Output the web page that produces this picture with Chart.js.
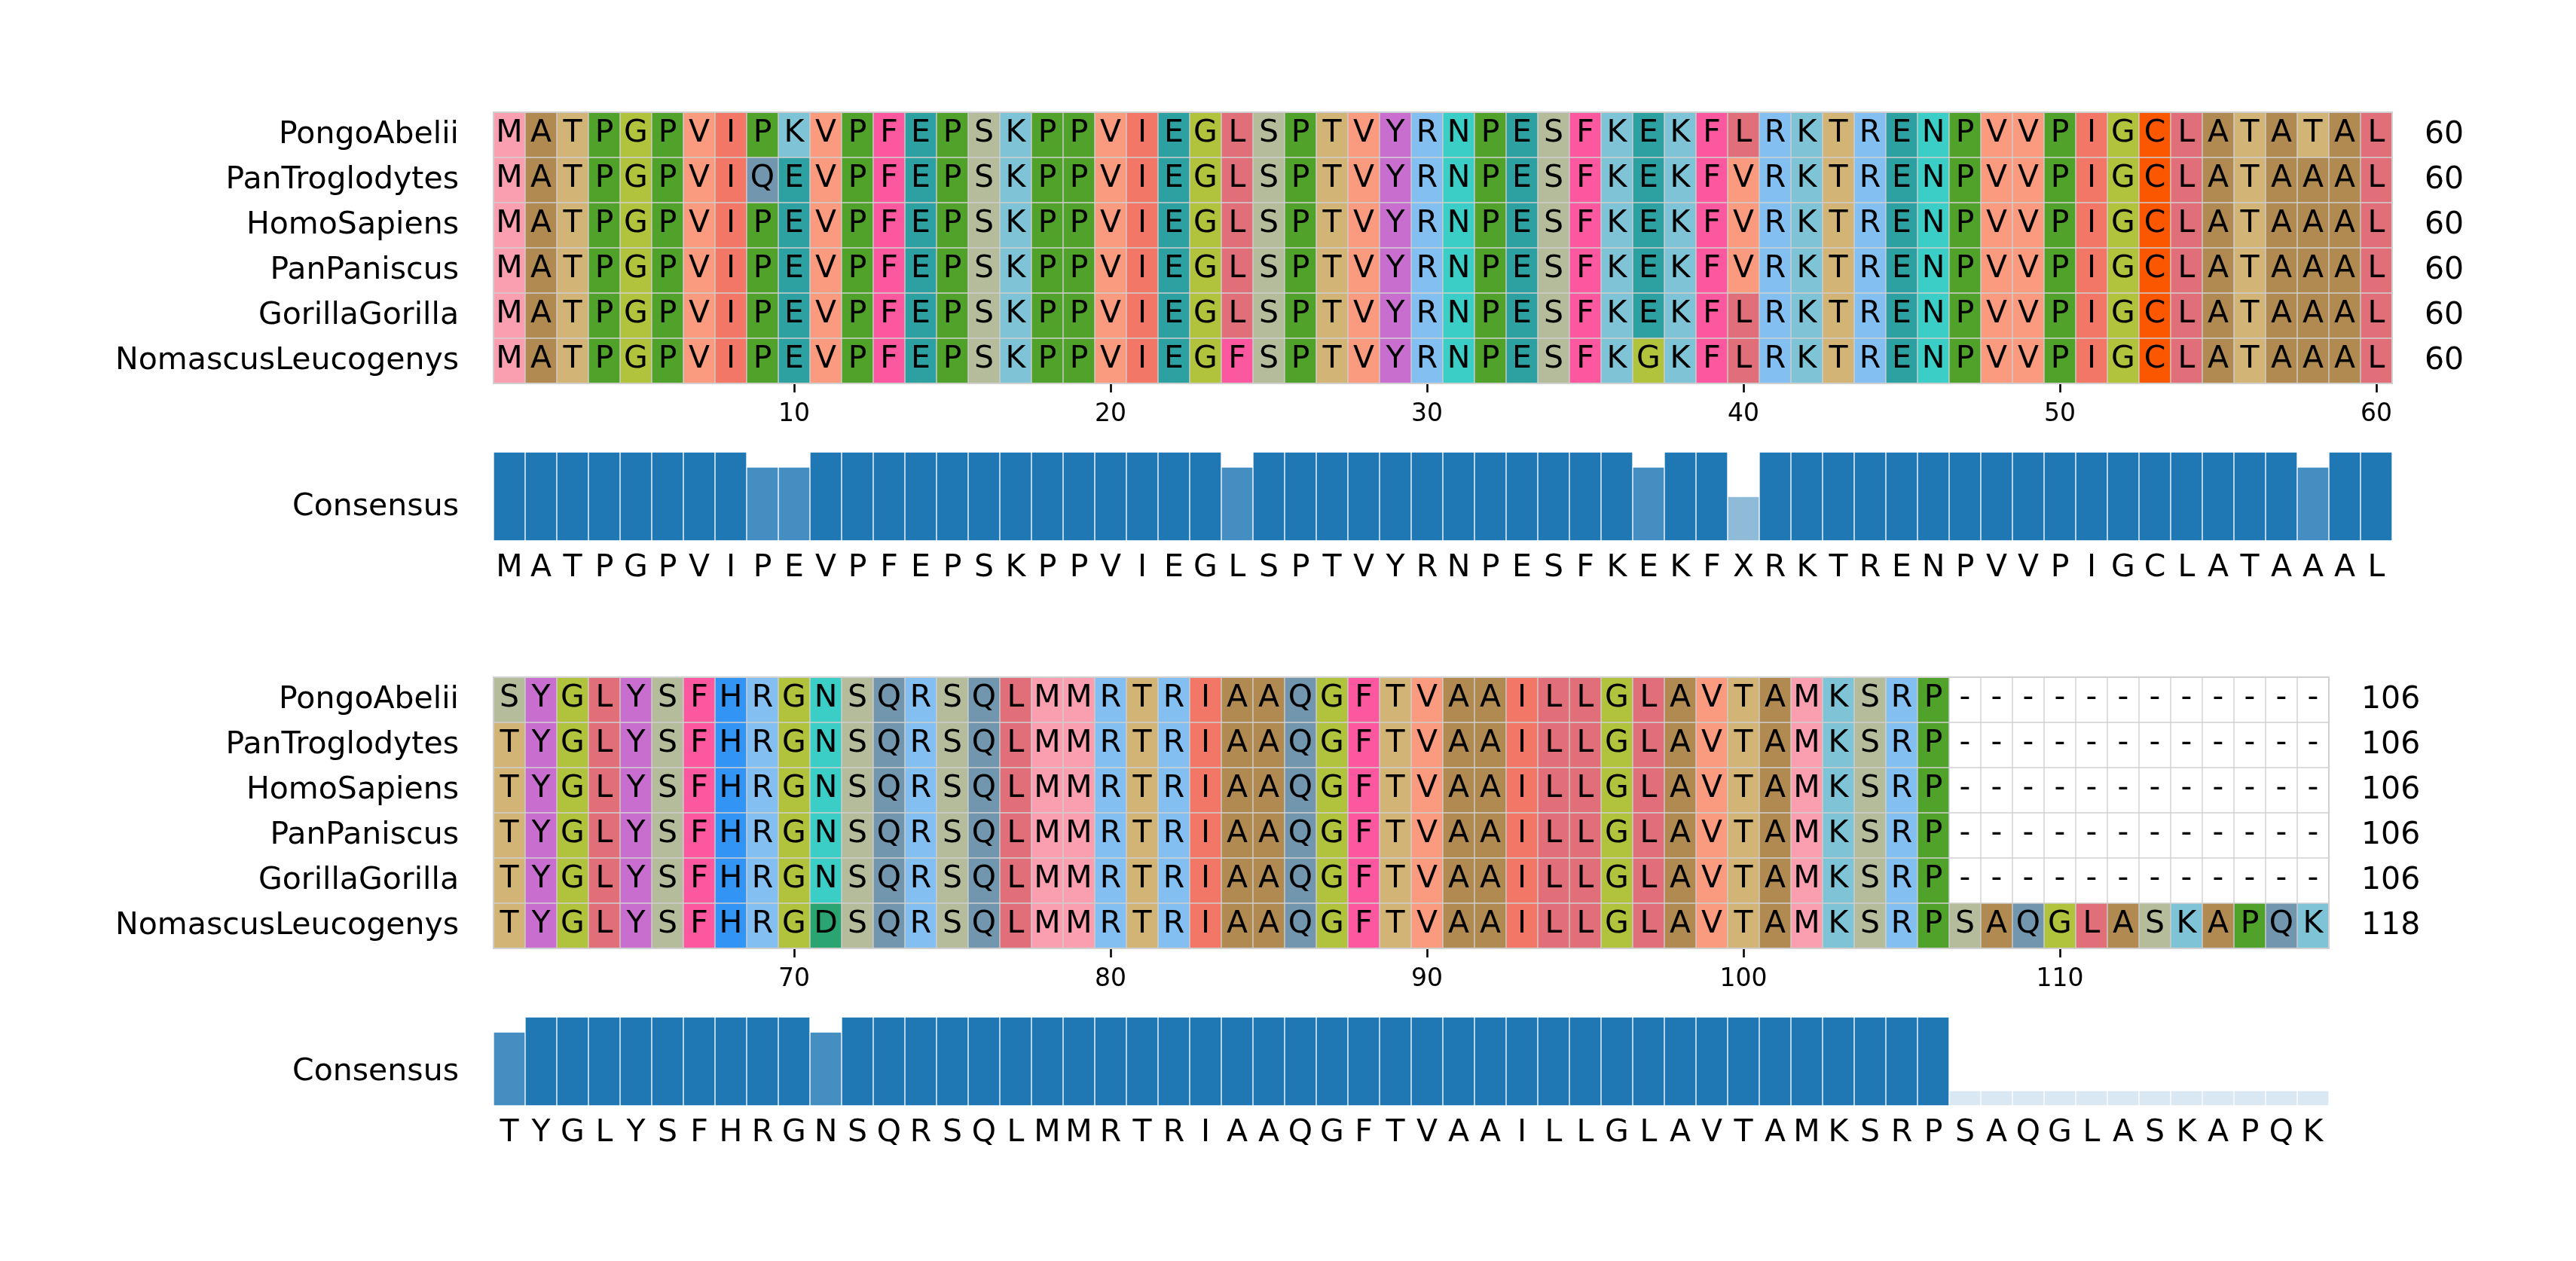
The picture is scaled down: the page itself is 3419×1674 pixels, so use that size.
<!DOCTYPE html>
<html>
<head>
<meta charset="utf-8">
<script src="https://cdn.jsdelivr.net/npm/chart.js@4.4.0/dist/chart.umd.min.js"></script>
<style>
  html, body { margin: 0; padding: 0; background: #fff; }
  body { width: 3419px; height: 1674px; position: relative; overflow: hidden; }
  canvas { position: absolute; left: 0; }
</style>
</head>
<body>
<canvas id="msa1" width="3419" height="489" style="top:100px"></canvas>
<canvas id="cons1" width="3419" height="198" style="top:590px"></canvas>
<canvas id="msa2" width="3419" height="489" style="top:850px"></canvas>
<canvas id="cons2" width="3419" height="198" style="top:1340px"></canvas>
<script>
// --- data ---
const species = ['PongoAbelii', 'PanTroglodytes', 'HomoSapiens', 'PanPaniscus', 'GorillaGorilla', 'NomascusLeucogenys']

const seqBlock1 = [
  'MATPGPVIPKVPFEPSKPPVIEGLSPTVYRNPESFKEKFLRKTRENPVVPIGCLATATAL',
  'MATPGPVIQEVPFEPSKPPVIEGLSPTVYRNPESFKEKFVRKTRENPVVPIGCLATAAAL',
  'MATPGPVIPEVPFEPSKPPVIEGLSPTVYRNPESFKEKFVRKTRENPVVPIGCLATAAAL',
  'MATPGPVIPEVPFEPSKPPVIEGLSPTVYRNPESFKEKFVRKTRENPVVPIGCLATAAAL',
  'MATPGPVIPEVPFEPSKPPVIEGLSPTVYRNPESFKEKFLRKTRENPVVPIGCLATAAAL',
  'MATPGPVIPEVPFEPSKPPVIEGFSPTVYRNPESFKGKFLRKTRENPVVPIGCLATAAAL'
]
const seqBlock2 = [
  'SYGLYSFHRGNSQRSQLMMRTRIAAQGFTVAAILLGLAVTAMKSRP------------',
  'TYGLYSFHRGNSQRSQLMMRTRIAAQGFTVAAILLGLAVTAMKSRP------------',
  'TYGLYSFHRGNSQRSQLMMRTRIAAQGFTVAAILLGLAVTAMKSRP------------',
  'TYGLYSFHRGNSQRSQLMMRTRIAAQGFTVAAILLGLAVTAMKSRP------------',
  'TYGLYSFHRGNSQRSQLMMRTRIAAQGFTVAAILLGLAVTAMKSRP------------',
  'TYGLYSFHRGDSQRSQLMMRTRIAAQGFTVAAILLGLAVTAMKSRPSAQGLASKAPQK'
]
const endBlock1 = [60, 60, 60, 60, 60, 60]
const endBlock2 = [106, 106, 106, 106, 106, 118]

const consensus1 = 'MATPGPVIPEVPFEPSKPPVIEGLSPTVYRNPESFKEKFXRKTRENPVVPIGCLATAAAL'
const consensus2 = 'TYGLYSFHRGNSQRSQLMMRTRIAAQGFTVAAILLGLAVTAMKSRPSAQGLASKAPQK'

const identity1 = [
  1, 1, 1, 1, 1, 1, 1, 1, 0.83, 0.83,
  1, 1, 1, 1, 1, 1, 1, 1, 1, 1,
  1, 1, 1, 0.83, 1, 1, 1, 1, 1, 1,
  1, 1, 1, 1, 1, 1, 0.83, 1, 1, 0.5,
  1, 1, 1, 1, 1, 1, 1, 1, 1, 1,
  1, 1, 1, 1, 1, 1, 1, 0.83, 1, 1
]
const identity2 = [
  0.83, 1, 1, 1, 1, 1, 1, 1, 1, 1,
  0.83, 1, 1, 1, 1, 1, 1, 1, 1, 1,
  1, 1, 1, 1, 1, 1, 1, 1, 1, 1,
  1, 1, 1, 1, 1, 1, 1, 1, 1, 1,
  1, 1, 1, 1, 1, 1, 0.17, 0.17, 0.17, 0.17,
  0.17, 0.17, 0.17, 0.17, 0.17, 0.17, 0.17, 0.17
]

const ticksBlock1 = [10, 20, 30, 40, 50, 60]
const ticksBlock2 = [70, 80, 90, 100, 110]

// residue colours
const residueColors = {
  A: '#b18a51', R: '#83bff1', N: '#3bcec6', D: '#2aa571', C: '#fa5700',
  Q: '#7196ae', E: '#2da0a1', G: '#b1c23c', H: '#3295f6', I: '#f37767',
  L: '#e06f79', K: '#7fc3d6', M: '#f99fb0', F: '#fb58a0', P: '#50a22b',
  S: '#b4bc9c', T: '#d3b477', W: '#4b3b8f', Y: '#c86ecf', V: '#fa9a7e'
}

Chart.defaults.font.family = '"DejaVu Sans", sans-serif'
Chart.defaults.color = '#000'

const PAGE_W = 3419
const GRID_LEFT = 655
const CELL_W = 42

// scales should not push the plot area around with their own label padding
const noPad = s => { s.paddingTop = 0; s.paddingBottom = 0; s.paddingLeft = 0; s.paddingRight = 0 }

const residueText = {
  id: 'residueText',
  afterDatasetsDraw(chart, args, opts) {
    if (!opts.rows) return
    const ctx = chart.ctx
    const area = chart.chartArea
    ctx.save()
    ctx.strokeStyle = '#d0d0d0'
    ctx.lineWidth = 2
    ctx.strokeRect(area.left, area.top, area.right - area.left, area.bottom - area.top)
    ctx.font = '41px "DejaVu Sans"'
    ctx.fillStyle = '#000'
    ctx.textAlign = 'center'
    ctx.textBaseline = 'middle'
    opts.rows.forEach((row, r) => {
      chart.getDatasetMeta(r).data.forEach((bar, j) => {
        ctx.fillText(row[j], bar.x, (bar.y + bar.base) / 2 - 2)
      })
    })
    ctx.restore()
  }
}
Chart.register(residueText)

function msaChart(id, rows, start, endLabels, tickVals) {
  const n = rows[0].length
  const datasets = rows.map((row, r) => ({
    label: species[r],
    data: row.split('').map((ch, j) => ({ x: start + j, y: [r, r + 1] })),
    backgroundColor: ctx => residueColors[row[ctx.dataIndex]] || '#ffffff',
    borderColor: '#d0d0d0',
    borderWidth: 1,
    borderSkipped: false,
    grouped: false,
    barPercentage: 1,
    categoryPercentage: 1
  }))

  new Chart(document.getElementById(id), {
    type: 'bar',
    data: { datasets },
    options: {
      responsive: false,
      animation: false,
      layout: { padding: { top: 49 } },
      plugins: {
        legend: { display: false },
        tooltip: { enabled: false },
        residueText: { rows }
      },
      scales: {
        x: {
          type: 'linear',
          min: start - 0.5,
          max: start + n - 0.5,
          offset: false,
          afterBuildTicks: s => { s.ticks = tickVals.map(v => ({ value: v })) },
          afterFit: s => { s.height = 80; noPad(s) },
          ticks: { font: { size: 33 }, padding: 10, autoSkip: false, maxRotation: 0 },
          grid: { offset: false, drawOnChartArea: false, tickLength: 12, tickWidth: 2.6, tickColor: '#000' },
          border: { display: false }
        },
        y: {
          type: 'linear',
          min: 0,
          max: rows.length,
          reverse: true,
          afterBuildTicks: s => { s.ticks = species.map((_, i) => ({ value: i + 0.5 })) },
          afterFit: s => { s.width = GRID_LEFT; noPad(s) },
          ticks: { callback: (v, i) => species[i], font: { size: 41 }, padding: 46 },
          grid: { display: false, drawTicks: false },
          border: { display: false }
        },
        yR: {
          type: 'linear',
          position: 'right',
          min: 0,
          max: rows.length,
          reverse: true,
          afterBuildTicks: s => { s.ticks = endLabels.map((_, i) => ({ value: i + 0.5 })) },
          afterFit: s => { s.width = PAGE_W - (GRID_LEFT + n * CELL_W); noPad(s) },
          ticks: { callback: (v, i) => String(endLabels[i]), font: { size: 41 }, padding: 43 },
          grid: { display: false, drawTicks: false },
          border: { display: false }
        }
      }
    }
  })
}

function consensusChart(id, letters, identity, start) {
  const n = letters.length
  new Chart(document.getElementById(id), {
    type: 'bar',
    data: {
      datasets: [{
        label: 'Consensus',
        data: identity.map((v, j) => ({ x: start + j, y: v })),
        backgroundColor: ctx => `rgba(31, 119, 180, ${identity[ctx.dataIndex]})`,
        borderColor: '#ffffff',
        borderWidth: 1,
        borderSkipped: false,
        barPercentage: 1,
        categoryPercentage: 1
      }]
    },
    options: {
      responsive: false,
      animation: false,
      layout: { padding: { top: 10, right: PAGE_W - (GRID_LEFT + n * CELL_W) } },
      plugins: { legend: { display: false }, tooltip: { enabled: false } },
      scales: {
        x: {
          type: 'linear',
          min: start - 0.5,
          max: start + n - 0.5,
          offset: false,
          afterBuildTicks: s => { s.ticks = letters.split('').map((_, j) => ({ value: start + j })) },
          afterFit: s => { s.height = 70; noPad(s) },
          ticks: { callback: (v, i) => letters[i], font: { size: 41 }, padding: 12, autoSkip: false, maxRotation: 0 },
          grid: { display: false, drawTicks: false },
          border: { display: false }
        },
        y: {
          min: 0,
          max: 1,
          afterBuildTicks: s => { s.ticks = [{ value: 0.38 }] },
          afterFit: s => { s.width = GRID_LEFT; noPad(s) },
          ticks: { callback: () => 'Consensus', font: { size: 41 }, padding: 46 },
          grid: { display: false, drawTicks: false },
          border: { display: false }
        }
      }
    }
  })
}

msaChart('msa1', seqBlock1, 1, endBlock1, ticksBlock1)
consensusChart('cons1', consensus1, identity1, 1)
msaChart('msa2', seqBlock2, 61, endBlock2, ticksBlock2)
consensusChart('cons2', consensus2, identity2, 61)
</script>
</body>
</html>
